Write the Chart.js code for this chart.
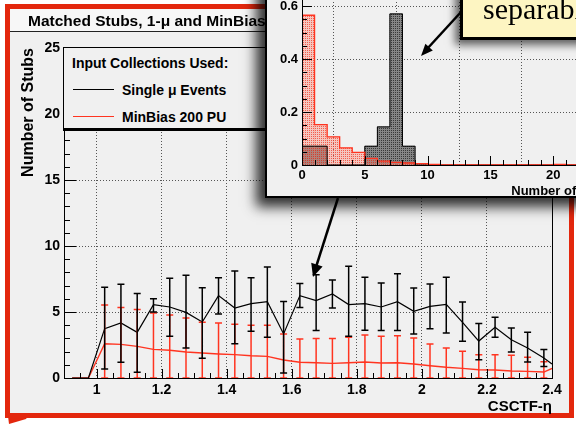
<!DOCTYPE html>
<html>
<head>
<meta charset="utf-8">
<script src="https://cdn.jsdelivr.net/npm/chart.js@4.4.1/dist/chart.umd.min.js"></script>
<style>
body { margin:0; width:576px; height:425px; position:relative; overflow:hidden; background:#fff;
       font-family:"Liberation Sans", Arial, sans-serif; font-weight:bold; }
.abs { position:absolute; }
</style>
</head>
<body>
<div class="abs" style="left:5px;top:4px;width:559px;height:404px;border:5px solid #e3270d;background:#f0f0f0"></div>
<canvas id="main" class="abs" width="576" height="425" style="left:0;top:0"></canvas>
<div class="abs" style="left:10px;top:9px;width:260px;height:22px;background:#f7f7f7;border-bottom:1px solid #222"></div>
<div class="abs" style="left:28px;top:12px;font-size:15.5px;line-height:17px;white-space:nowrap">Matched Stubs, 1-μ and MinBias 200 PU</div>

<div class="abs" id="legend" style="left:63px;top:47px;width:215px;height:80px;border:1px solid #000;border-bottom:3px solid #000;background:#f0f0f0;font-size:14px;line-height:16px;white-space:nowrap">
  <div class="abs" style="left:8px;top:7px">Input Collections Used:</div>
  <div class="abs" style="left:9px;top:41px;width:41px;height:1px;background:#000"></div>
  <div class="abs" style="left:58px;top:34px">Single μ Events</div>
  <div class="abs" style="left:9px;top:68px;width:41px;height:1px;background:#ff3420"></div>
  <div class="abs" style="left:58px;top:61px">MinBias 200 PU</div>
</div>

<div class="abs" style="left:265px;top:-40px;width:360px;height:238px;box-sizing:border-box;border:2px solid #000;background:#f0f0f0;box-shadow:-9px 9px 12px rgba(0,0,0,0.8)">
  <canvas id="inset" class="abs" width="356" height="234" style="left:0;top:0"></canvas>
</div>

<div class="abs" style="left:460px;top:-30px;width:200px;height:70px;box-sizing:border-box;border:3px solid #000;background:#fdf5c2;box-shadow:-5px 5px 8px rgba(0,0,0,0.6)"></div>
<div class="abs" style="left:483px;top:-6px;font-family:'Liberation Serif','Times New Roman',serif;font-weight:normal;font-size:30px;line-height:30px;white-space:nowrap">separable</div>

<svg class="abs" width="576" height="425" style="left:0;top:0">
  <line x1="461" y1="12" x2="427" y2="49" stroke="#000" stroke-width="2.5"/>
  <polygon points="421,56 432.8,50.5 425.4,43.8" fill="#000"/>
  <line x1="338" y1="198" x2="316" y2="267" stroke="#000" stroke-width="2.5"/>
  <polygon points="313,277 322.6,266.4 311.2,262.8" fill="#000"/>
  <polygon points="8,416 28,416 26,419 9,424" fill="#e3270d"/>
</svg>

<script>
// eta bin centres (CSCTF-eta)
var etaCenters = [0.925, 0.975, 1.025, 1.075, 1.125, 1.175, 1.225, 1.275, 1.325, 1.375,
                  1.425, 1.475, 1.525, 1.575, 1.625, 1.675, 1.725, 1.775, 1.825, 1.875,
                  1.925, 1.975, 2.025, 2.075, 2.125, 2.175, 2.225, 2.275, 2.325, 2.375];

// single mu events: mean number of stubs, error bar ends
var muVals = [0, 0, 3.74, 4.17, 3.46, 5.56, 5.38, 4.97, 4.24, 6.24,
              5.30, 5.63, 5.78, 3.34, 6.24, 5.86, 6.36, 5.56, 5.63, 5.38,
              5.78, 5.05, 5.43, 5.58, 4.22, 2.80, 3.84, 2.90, 2.27, 1.52];
var muHi = [null, null, 6.87, 7.10, 6.40, 6.00, 7.55, 7.78, 6.84, 7.60,
            8.10, 7.60, 8.40, 5.80, 7.15, 7.83, 7.42, 8.46, 7.63, 7.20,
            7.90, 6.82, 7.12, 7.63, 5.76, 4.12, 4.60, 3.79, 3.46, 2.15];
var muLo = [null, null, 0.68, 1.20, 0.43, 5.00, 3.16, 2.27, 1.50, 4.85,
            2.60, 3.54, 3.08, 0.38, 5.35, 3.59, 5.30, 3.16, 3.61, 3.59,
            3.59, 3.33, 3.74, 3.41, 2.78, 1.39, 3.08, 1.97, 1.21, 0.88];
var muEdge = 1.06;

// minbias 200 PU
var mbVals = [0, 0, 2.60, 2.55, 2.40, 2.17, 2.10, 1.97, 1.89, 1.82,
              1.77, 1.69, 1.64, 1.36, 1.19, 1.16, 1.11, 1.16, 1.21, 1.14,
              1.16, 1.06, 0.93, 0.81, 0.73, 0.63, 0.61, 0.53, 0.50, 0.45];
var mbHi = [null, null, 5.53, 5.35, 5.18, 4.92, 4.77, 4.55, 4.22, 4.17,
            4.07, 3.99, 3.99, 3.33, 2.95, 3.00, 3.00, 3.08, 3.26, 3.16,
            3.20, 3.03, 2.58, 2.27, 2.02, 1.77, 1.77, 1.72, 1.57, 1.24];
var mbLo = [null, null, 0, 0, 0, 0, 0, 0, 0, 0,
            0, 0, 0, 0, 0, 0, 0, 0, 0, 0,
            0, 0, 0, 0, 0, 0, 0, 0, 0, 0];
var mbEdge = 0.73;

var etaTicks = [1, 1.2, 1.4, 1.6, 1.8, 2, 2.2, 2.4];
var stubTicks = [0, 5, 10, 15, 20];

// inset: fraction of events vs number of stubs (bins of width 1 starting at these edges)
var stubEdges = [0, 1, 2, 3, 4, 5, 6, 7, 8, 9, 10, 11, 12, 13, 14, 15, 16, 17, 18, 19, 20, 21];
var muFrac = [0.071, 0.071, 0, 0, 0, 0.071, 0.144, 0.571, 0.071, 0, 0,
              0, 0, 0, 0, 0, 0, 0, 0, 0, 0, 0];
var mbFrac = [0.566, 0.1525, 0.106, 0.065, 0.0475, 0.025, 0.015, 0.010, 0.0075, 0.005, 0.0025,
              0, 0, 0, 0, 0, 0, 0, 0, 0, 0.0025, 0];

var red = '#ff3420';
Chart.defaults.font.family = '"Liberation Sans", Arial, sans-serif';
Chart.defaults.font.weight = 'bold';
Chart.defaults.color = '#000';

function inwardTicks(xs, ys) {
    return {
        id: 'inwardTicks',
        afterDraw: function(chart) {
            var ctx = chart.ctx, a = chart.chartArea;
            ctx.save();
            ctx.strokeStyle = '#000';
            ctx.lineWidth = 1;
            ctx.strokeRect(a.left + 0.5, a.top + 0.5, a.right - a.left, a.bottom - a.top);
            ctx.beginPath();
            var sx = chart.scales.x, sy = chart.scales.y, i, v, p, big;
            var nx = Math.round((sx.max - sx.min) / xs.minor);
            for (i = 0; i <= nx; i++) {
                v = sx.min + i * xs.minor;
                big = Math.abs(v / xs.major - Math.round(v / xs.major)) < 1e-6;
                p = Math.round(sx.getPixelForValue(v)) + 0.5;
                ctx.moveTo(p, a.bottom);
                ctx.lineTo(p, a.bottom - (big ? xs.big : xs.small));
            }
            var ny = Math.round((sy.max - sy.min) / ys.minor);
            for (i = 0; i <= ny; i++) {
                v = sy.min + i * ys.minor;
                big = Math.abs(v / ys.major - Math.round(v / ys.major)) < 1e-6;
                p = Math.round(sy.getPixelForValue(v)) + 0.5;
                ctx.moveTo(a.left, p);
                ctx.lineTo(a.left + (big ? ys.big : ys.small), p);
            }
            ctx.stroke();
            ctx.restore();
        }
    };
}

var errBars = {
    id: 'errBars',
    afterDatasetsDraw: function(chart) {
        var ctx = chart.ctx, a = chart.chartArea;
        var sx = chart.scales.x, sy = chart.scales.y;
        var sets = [[mbLo, mbHi, red], [muLo, muHi, '#000']];
        ctx.save();
        ctx.beginPath();
        ctx.rect(a.left, a.top, a.right - a.left, a.bottom - a.top);
        ctx.clip();
        ctx.lineWidth = 1.5;
        sets.forEach(function(s) {
            ctx.strokeStyle = s[2];
            ctx.beginPath();
            for (var i = 0; i < etaCenters.length; i++) {
                if (s[1][i] == null) continue;
                var x = sx.getPixelForValue(etaCenters[i]);
                var y1 = sy.getPixelForValue(s[0][i]);
                var y2 = sy.getPixelForValue(s[1][i]);
                ctx.moveTo(x, y1); ctx.lineTo(x, y2);
                ctx.moveTo(x - 3.5, y1); ctx.lineTo(x + 3.5, y1);
                ctx.moveTo(x - 3.5, y2); ctx.lineTo(x + 3.5, y2);
            }
            ctx.stroke();
        });
        ctx.restore();
    }
};

function points(xs, ys, edgeVal) {
    var out = xs.map(function(x, i) { return {x: x, y: ys[i]}; });
    out.push({x: 2.4, y: edgeVal});
    return out;
}

new Chart(document.getElementById('main'), {
    type: 'line',
    data: {
        datasets: [
            { data: points(etaCenters, muVals, muEdge), borderColor: '#000', borderWidth: 1.2, pointRadius: 0, fill: false },
            { data: points(etaCenters, mbVals, mbEdge), borderColor: red, borderWidth: 1.4, pointRadius: 0, fill: false }
        ]
    },
    options: {
        responsive: false,
        animation: false,
        layout: { padding: { left: 0, top: 48, right: 24, bottom: 0 } },
        plugins: { legend: { display: false }, tooltip: { enabled: false } },
        scales: {
            x: {
                type: 'linear', min: 0.9, max: 2.4,
                afterBuildTicks: function(s) { s.ticks = etaTicks.map(function(v) { return {value: v}; }); },
                afterFit: function(s) { s.height = 47; },
                ticks: { font: { size: 14 }, padding: 4, maxRotation: 0,
                         callback: function(v) { return String(+v.toFixed(1)); } },
                grid: { color: '#555', drawTicks: false },
                border: { display: false, dash: [1, 2] },
                title: { display: true, text: 'CSCTF-η', align: 'end', font: { size: 15 }, padding: { top: 0, bottom: 9 } }
            },
            y: {
                min: 0, max: 25,
                afterBuildTicks: function(s) { s.ticks = [0, 5, 10, 15, 20, 25].map(function(v) { return {value: v}; }); },
                afterFit: function(s) { s.width = 64; },
                ticks: { font: { size: 14 }, padding: 4 },
                grid: { color: '#555', drawTicks: false },
                border: { display: false, dash: [1, 2] },
                title: { display: true, text: 'Number of Stubs', align: 'end', font: { size: 16 }, padding: { top: 19 } }
            }
        }
    },
    plugins: [errBars, inwardTicks({minor: 0.05, major: 0.2, small: 5, big: 9}, {minor: 1, major: 5, small: 6, big: 12})]
});

function pattern(base, dot) {
    var c = document.createElement('canvas');
    c.width = 2; c.height = 2;
    var g = c.getContext('2d');
    g.fillStyle = base; g.fillRect(0, 0, 2, 2);
    g.fillStyle = dot; g.fillRect(0, 0, 1, 1);
    return document.createElement('canvas').getContext('2d').createPattern(c, 'repeat');
}

function bars(vals) {
    return stubEdges.map(function(e, i) { return {x: e + 0.5, y: vals[i]}; });
}
function outline(vals, xmax) {
    var out = [{x: stubEdges[0], y: 0}];
    stubEdges.forEach(function(e, i) { out.push({x: e, y: vals[i]}); });
    out.push({x: stubEdges[stubEdges.length - 1] + 1, y: 0});
    if (xmax) out.push({x: xmax, y: 0});
    return out;
}

new Chart(document.getElementById('inset'), {
    type: 'bar',
    data: {
        datasets: [
            { type: 'line', data: outline(mbFrac, 25), borderColor: red, borderWidth: 1.3, pointRadius: 0, stepped: 'before', order: 1 },
            { type: 'line', data: outline(muFrac), borderColor: '#000', borderWidth: 1, pointRadius: 0, stepped: 'before', order: 2 },
            { data: bars(mbFrac), backgroundColor: pattern('rgba(255,120,100,0.35)', 'rgba(240,60,40,0.75)'), borderWidth: 0, grouped: false, barPercentage: 1, categoryPercentage: 1, order: 3 },
            { data: bars(muFrac), backgroundColor: pattern('#858585', '#383838'), borderWidth: 0, grouped: false, barPercentage: 1, categoryPercentage: 1, order: 4 }
        ]
    },
    options: {
        responsive: false,
        animation: false,
        layout: { padding: { left: 0, top: 31, right: 7, bottom: 0 } },
        plugins: { legend: { display: false }, tooltip: { enabled: false } },
        scales: {
            x: {
                type: 'linear', min: 0, max: 25, offset: false,
                afterBuildTicks: function(s) { s.ticks = stubTicks.map(function(v) { return {value: v}; }); },
                afterFit: function(s) { s.height = 31; },
                ticks: { font: { size: 13 }, padding: 3, maxRotation: 0 },
                grid: { color: '#555', drawTicks: false },
                border: { display: false, dash: [1, 2] },
                title: { display: true, text: 'Number of Stubs', align: 'end', font: { size: 13 }, padding: { top: 0, bottom: -3 } }
            },
            y: {
                min: 0, max: 0.65,
                afterBuildTicks: function(s) { s.ticks = [0, 0.2, 0.4, 0.6].map(function(v) { return {value: v}; }); },
                afterFit: function(s) { s.width = 35; },
                ticks: { font: { size: 13 }, padding: 4, callback: function(v) { return String(+v.toFixed(1)); } },
                grid: { color: '#555', drawTicks: false },
                border: { display: false, dash: [1, 2] }
            }
        }
    },
    plugins: [inwardTicks({minor: 1, major: 5, small: 5, big: 9}, {minor: 0.05, major: 0.2, small: 5, big: 10})]
});
</script>
</body>
</html>
